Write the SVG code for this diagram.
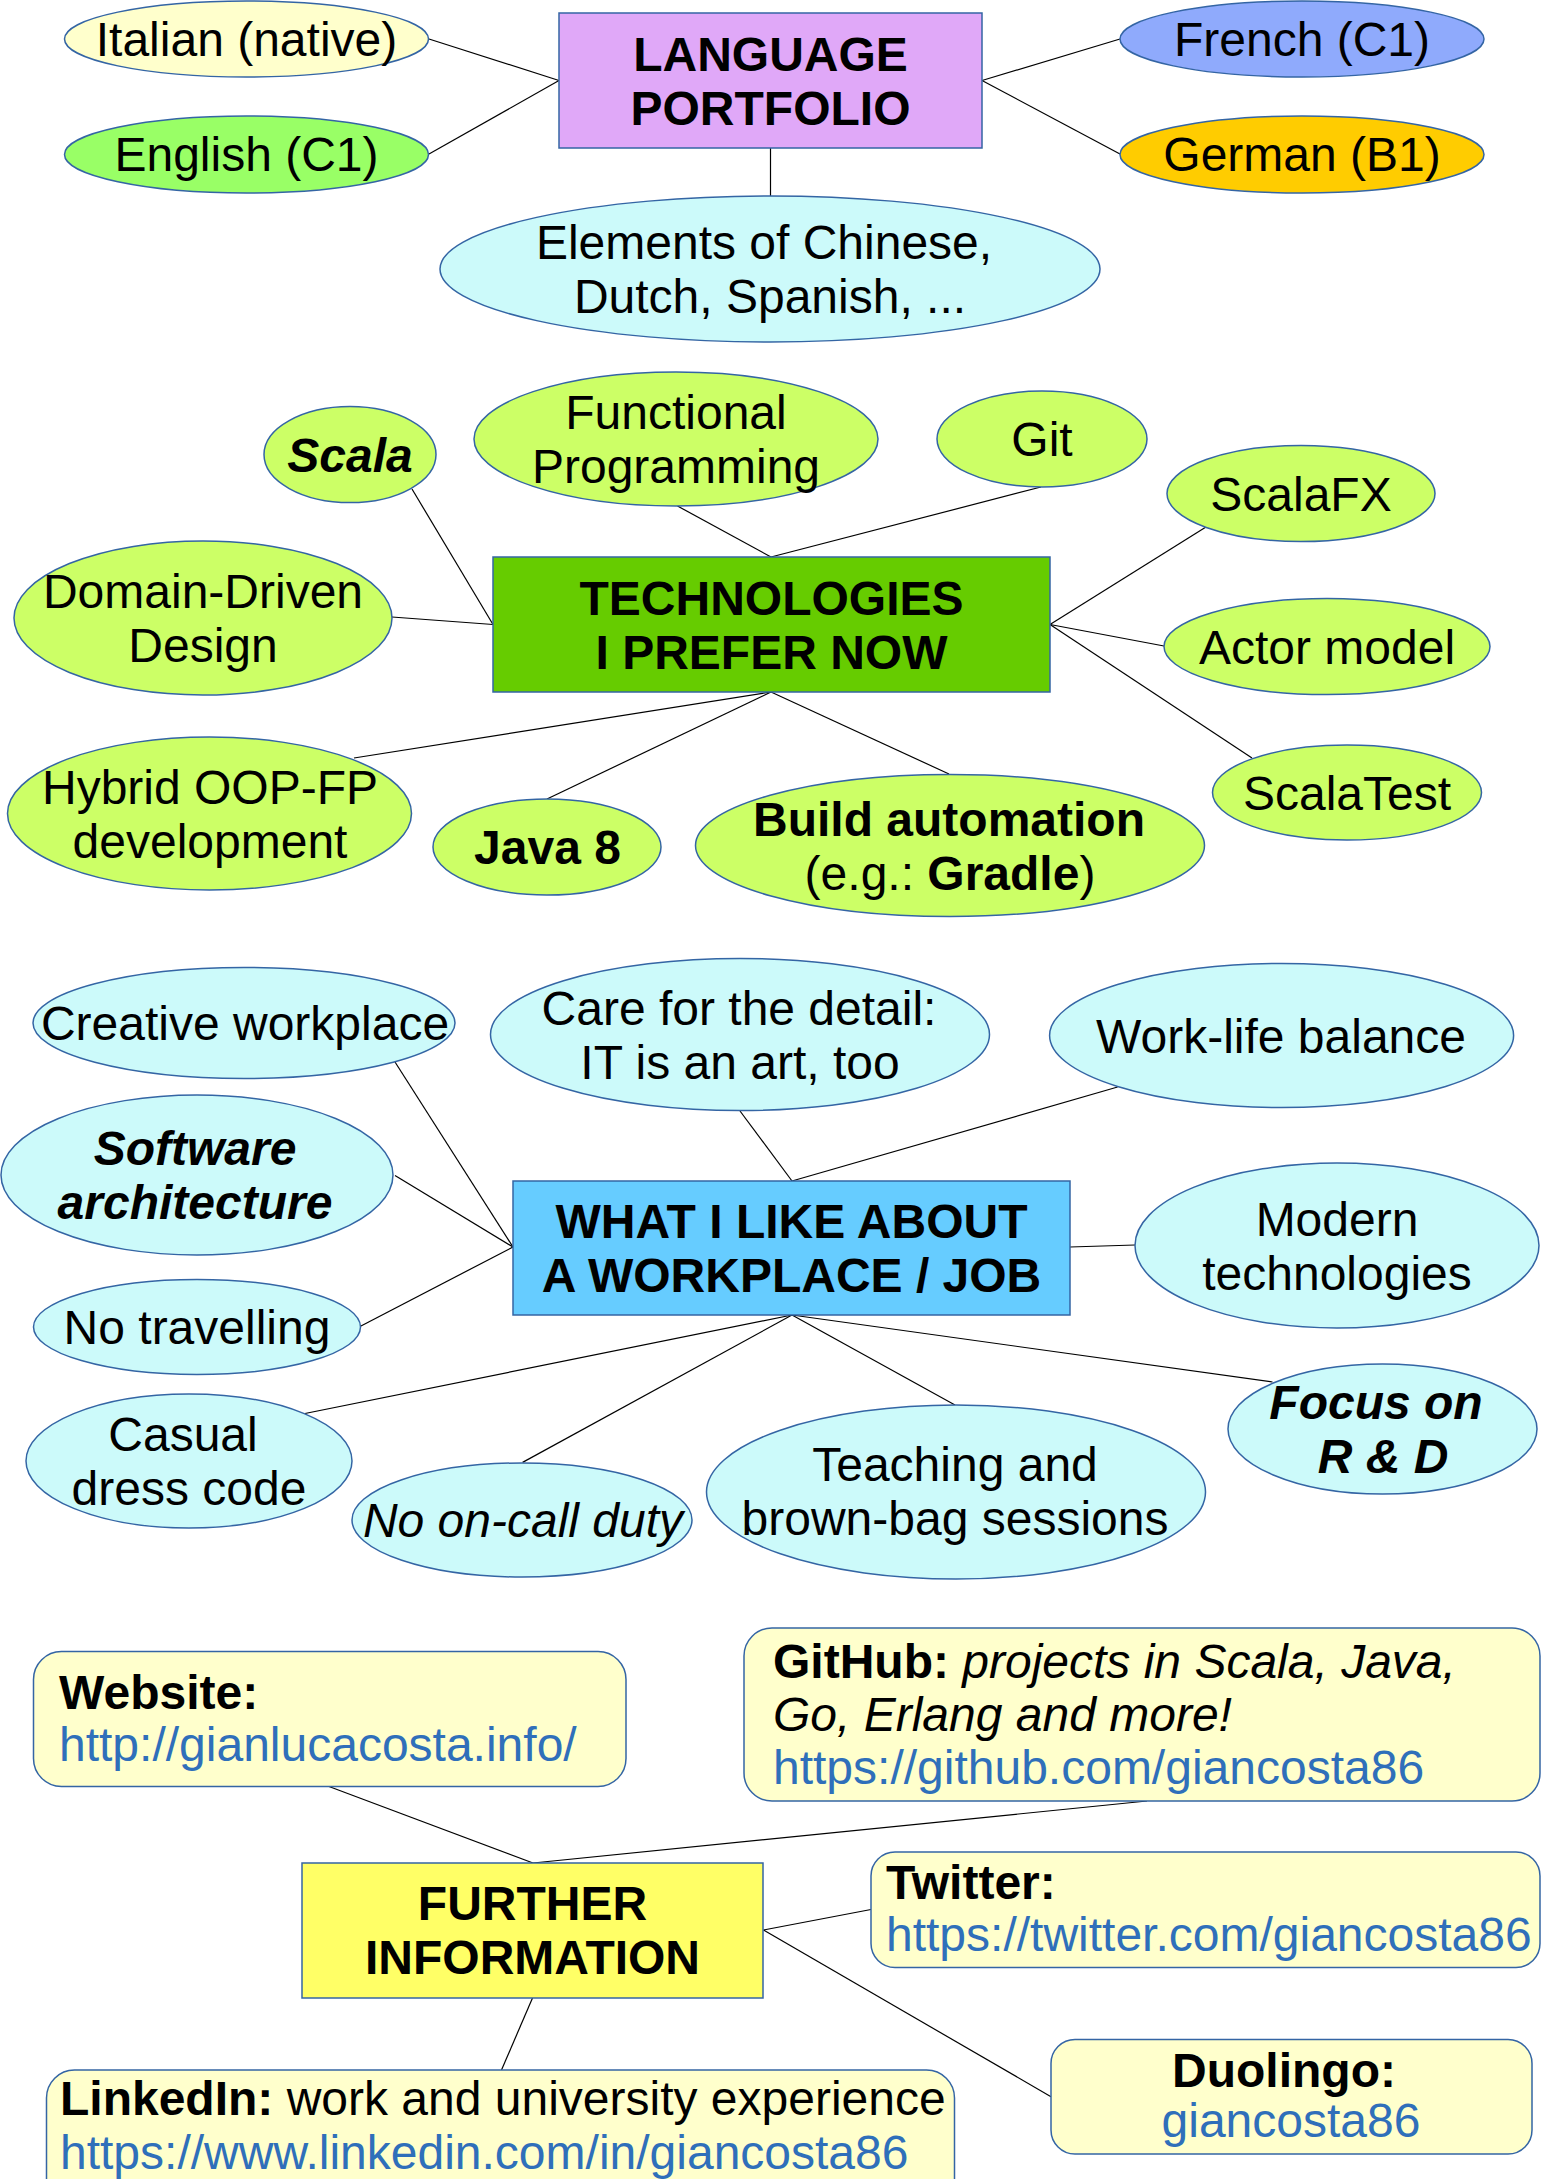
<svg xmlns="http://www.w3.org/2000/svg" width="1542" height="2179" viewBox="0 0 1542 2179">
<style>
text{font-family:"Liberation Sans",Arial,sans-serif;font-size:48px;fill:#000}
.c{text-anchor:middle}
.b{font-weight:bold}
.i{font-style:italic}
.bi{font-weight:bold;font-style:italic}
.lnk{fill:#2f6fba}
.n{stroke:#3465a4;stroke-width:1.5}
.yl{fill:#ffffcc}
.gr{fill:#99ff66}
.fr{fill:#8faafc}
.de{fill:#ffcc00}
.cy{fill:#ccfafa}
.lg{fill:#ccff66}
#connectors line{stroke:#000;stroke-width:1.2}
</style>
<rect width="1542" height="2179" fill="#fff"/>
<g id="connectors">
<line x1="559" y1="80.5" x2="429" y2="39"/>
<line x1="559" y1="80.5" x2="429" y2="154"/>
<line x1="982" y1="80.5" x2="1120" y2="39"/>
<line x1="982" y1="80.5" x2="1120" y2="154"/>
<line x1="770.5" y1="148" x2="770.5" y2="196"/>
<line x1="412" y1="489" x2="493" y2="624.5"/>
<line x1="392" y1="617" x2="493" y2="624.5"/>
<line x1="677.5" y1="506" x2="771" y2="557"/>
<line x1="1041" y1="487" x2="771" y2="557"/>
<line x1="1206" y1="527" x2="1050" y2="624.5"/>
<line x1="1164" y1="646" x2="1050" y2="624.5"/>
<line x1="1252" y1="758" x2="1050" y2="624.5"/>
<line x1="354" y1="758" x2="771" y2="692"/>
<line x1="547" y1="799" x2="771" y2="692"/>
<line x1="949" y1="774" x2="771" y2="692"/>
<line x1="395" y1="1062" x2="513" y2="1247"/>
<line x1="395" y1="1175.5" x2="513" y2="1247"/>
<line x1="360" y1="1326.5" x2="513" y2="1247"/>
<line x1="740" y1="1111" x2="792" y2="1181"/>
<line x1="1117.6" y1="1087" x2="792" y2="1181"/>
<line x1="1070" y1="1247" x2="1135" y2="1245"/>
<line x1="1272.5" y1="1382" x2="792" y2="1315"/>
<line x1="955" y1="1405" x2="792" y2="1315"/>
<line x1="305" y1="1413.5" x2="792" y2="1315"/>
<line x1="522.6" y1="1462.4" x2="792" y2="1315"/>
<line x1="329" y1="1786.5" x2="533" y2="1863"/>
<line x1="1147" y1="1801" x2="533" y2="1863"/>
<line x1="871" y1="1909.5" x2="763.5" y2="1930"/>
<line x1="1051" y1="2096.7" x2="763.5" y2="1930"/>
<line x1="501.5" y1="2070" x2="532.5" y2="1998"/>
</g>

<g id="language-portfolio">
<rect class="n" x="559" y="13" width="423" height="135" fill="#e0a8f8"/>
<text class="c b" x="770.5" y="70.5">LANGUAGE</text>
<text class="c b" x="770.5" y="124.5">PORTFOLIO</text>
</g>
<g id="italian">
<ellipse class="n yl" cx="246.5" cy="39" rx="182" ry="38"/>
<text class="c" x="246.5" y="56">Italian (native)</text>
</g>
<g id="english">
<ellipse class="n gr" cx="246.5" cy="154.5" rx="182" ry="38.5"/>
<text class="c" x="246.5" y="171">English (C1)</text>
</g>
<g id="french">
<ellipse class="n fr" cx="1302" cy="39" rx="182" ry="38"/>
<text class="c" x="1302" y="56">French (C1)</text>
</g>
<g id="german">
<ellipse class="n de" cx="1302" cy="154.5" rx="182" ry="38.5"/>
<text class="c" x="1302" y="171">German (B1)</text>
</g>
<g id="elements">
<ellipse class="n cy" cx="770" cy="269" rx="330" ry="73"/>
<text class="c" x="764" y="259">Elements of Chinese,</text>
<text class="c" x="770" y="313">Dutch, Spanish, ...</text>
</g>

<g id="technologies">
<rect class="n" x="493" y="557" width="557" height="135" fill="#66cc00"/>
<text class="c b" x="771.5" y="614.5">TECHNOLOGIES</text>
<text class="c b" x="771.5" y="668.5">I PREFER NOW</text>
</g>
<g id="scala">
<ellipse class="n lg" cx="350" cy="454.6" rx="86" ry="48"/>
<text class="c bi" x="350" y="471.5">Scala</text>
</g>
<g id="functional-programming">
<ellipse class="n lg" cx="676" cy="439" rx="202" ry="67"/>
<text class="c" x="676" y="429">Functional</text>
<text class="c" x="676" y="483">Programming</text>
</g>
<g id="git">
<ellipse class="n lg" cx="1042" cy="439" rx="105" ry="48"/>
<text class="c" x="1042" y="456">Git</text>
</g>
<g id="scalafx">
<ellipse class="n lg" cx="1301" cy="493.5" rx="134" ry="48"/>
<text class="c" x="1301" y="510.5">ScalaFX</text>
</g>
<g id="domain-driven-design">
<ellipse class="n lg" cx="203" cy="618" rx="189" ry="77"/>
<text class="c" x="203" y="608">Domain-Driven</text>
<text class="c" x="203" y="662">Design</text>
</g>
<g id="actor-model">
<ellipse class="n lg" cx="1327" cy="646.6" rx="163" ry="48"/>
<text class="c" x="1327" y="663.6">Actor model</text>
</g>
<g id="scalatest">
<ellipse class="n lg" cx="1347" cy="792.5" rx="134.5" ry="47.5"/>
<text class="c" x="1347" y="809.5">ScalaTest</text>
</g>
<g id="hybrid">
<ellipse class="n lg" cx="209.5" cy="813.5" rx="202" ry="76.5"/>
<text class="c" x="210" y="803.5">Hybrid OOP-FP</text>
<text class="c" x="210" y="857.5">development</text>
</g>
<g id="java8">
<ellipse class="n lg" cx="547" cy="847" rx="114" ry="48"/>
<text class="c b" x="547.5" y="864">Java 8</text>
</g>
<g id="build-automation">
<ellipse class="n lg" cx="950" cy="845.5" rx="254.5" ry="71"/>
<text class="c b" x="949" y="835.5">Build automation</text>
<text class="c" x="950" y="889.5">(e.g.: <tspan class="b">Gradle</tspan>)</text>
</g>

<g id="workplace">
<rect class="n" x="513" y="1181" width="557" height="134" fill="#66ccff"/>
<text class="c b" x="791.5" y="1238">WHAT I LIKE ABOUT</text>
<text class="c b" x="791.5" y="1292">A WORKPLACE / JOB</text>
</g>
<g id="creative-workplace">
<ellipse class="n cy" cx="244" cy="1023" rx="211" ry="55.5"/>
<text class="c" x="245" y="1040">Creative workplace</text>
</g>
<g id="care-detail">
<ellipse class="n cy" cx="740" cy="1034.5" rx="249.5" ry="76"/>
<text class="c" x="739" y="1024.5">Care for the detail:</text>
<text class="c" x="740" y="1078.5">IT is an art, too</text>
</g>
<g id="work-life-balance">
<ellipse class="n cy" cx="1281.6" cy="1035.5" rx="232" ry="72"/>
<text class="c" x="1281" y="1052.5">Work-life balance</text>
</g>
<g id="software-architecture">
<ellipse class="n cy" cx="197" cy="1175" rx="196" ry="80"/>
<text class="c bi" x="195" y="1165">Software</text>
<text class="c bi" x="195" y="1219">architecture</text>
</g>
<g id="no-travelling">
<ellipse class="n cy" cx="197" cy="1327" rx="163.5" ry="47.5"/>
<text class="c" x="197" y="1344">No travelling</text>
</g>
<g id="modern-technologies">
<ellipse class="n cy" cx="1337" cy="1245.5" rx="202" ry="82.5"/>
<text class="c" x="1337" y="1235.5">Modern</text>
<text class="c" x="1337" y="1289.5">technologies</text>
</g>
<g id="casual-dress-code">
<ellipse class="n cy" cx="189" cy="1461" rx="163" ry="67"/>
<text class="c" x="183" y="1451">Casual</text>
<text class="c" x="189" y="1505">dress code</text>
</g>
<g id="no-on-call">
<ellipse class="n cy" cx="522" cy="1520" rx="170" ry="57"/>
<text class="c i" x="523" y="1537">No on-call duty</text>
</g>
<g id="teaching">
<ellipse class="n cy" cx="956" cy="1492" rx="249.5" ry="87"/>
<text class="c" x="955" y="1481">Teaching and</text>
<text class="c" x="955" y="1535">brown-bag sessions</text>
</g>
<g id="focus-rd">
<ellipse class="n cy" cx="1382.5" cy="1429" rx="154.5" ry="65"/>
<text class="c bi" x="1376" y="1419">Focus on</text>
<text class="c bi" x="1383" y="1473">R &amp; D</text>
</g>

<g id="further-information">
<rect class="n" x="302" y="1863" width="461" height="135" fill="#ffff66"/>
<text class="c b" x="532.5" y="1920">FURTHER</text>
<text class="c b" x="532.5" y="1974">INFORMATION</text>
</g>
<g id="website">
<rect class="n yl" x="33.5" y="1651.5" width="592.5" height="135" rx="28"/>
<text class="b" x="59" y="1709">Website:</text>
<text class="lnk" x="59" y="1761">http://gianlucacosta.info/</text>
</g>
<g id="github">
<rect class="n yl" x="744" y="1628" width="796" height="173" rx="28"/>
<text x="773" y="1677.5"><tspan class="b">GitHub:</tspan><tspan class="i"> projects in Scala, Java,</tspan></text>
<text class="i" x="773" y="1731">Go, Erlang and more!</text>
<text class="lnk" x="773" y="1783.5">https://github.com/giancosta86</text>
</g>
<g id="twitter">
<rect class="n yl" x="871" y="1852" width="669" height="115.5" rx="24"/>
<text class="b" x="886" y="1898.5">Twitter:</text>
<text class="lnk" x="886" y="1951">https://twitter.com/giancosta86</text>
</g>
<g id="duolingo">
<rect class="n yl" x="1051" y="2039.5" width="481" height="114.5" rx="24"/>
<text class="c b" x="1284" y="2087">Duolingo:</text>
<text class="c lnk" x="1291" y="2137">giancosta86</text>
</g>
<g id="linkedin">
<rect class="n yl" x="46.5" y="2070" width="908" height="140" rx="28"/>
<text x="60" y="2115"><tspan class="b">LinkedIn:</tspan> work and university experience</text>
<text class="lnk" x="60" y="2169">https://www.linkedin.com/in/giancosta86</text>
</g>
</svg>
